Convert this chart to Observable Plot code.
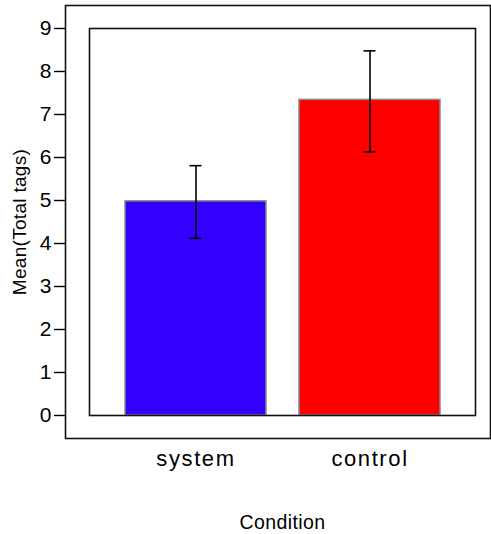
<!DOCTYPE html>
<html>
<head>
<meta charset="utf-8">
<script src="https://cdn.jsdelivr.net/npm/d3@7"></script>
<script src="https://cdn.jsdelivr.net/npm/@observablehq/plot@0.6"></script>
<style>
  html, body { margin: 0; padding: 0; background: #fff; }
  svg { display: block; }
</style>
</head>
<body>
<div id="chart"></div>
<script>
const conditions = ["system", "control"];
const means = [4.98, 7.34];
const errLow = [4.12, 6.13];
const errHigh = [5.81, 8.48];
const barColors = ["#3300ff", "#ff0000"];
const yTicks = [0, 1, 2, 3, 4, 5, 6, 7, 8, 9];
const xTitle = "Condition";
const yTitle = "Mean(Total tags)";

const rows = conditions.map((c, i) => ({
  condition: c, mean: means[i], lo: errLow[i], hi: errHigh[i], color: barColors[i]
}));

const chart = Plot.plot({
  width: 491,
  height: 534,
  marginLeft: 89,
  marginRight: 16,
  marginTop: 28,
  marginBottom: 119,
  style: { fontFamily: "'Liberation Sans', Arial, sans-serif", color: "#000", background: "#fff" },
  x: { domain: conditions, paddingInner: 0.19, paddingOuter: 0.2, label: null },
  y: { domain: [0, 9], label: null },
  marks: [
    Plot.frame({ stroke: "#111", strokeWidth: 1.6, insetLeft: -24, insetTop: -23, insetRight: -15, insetBottom: -23 }),
    Plot.barY(rows, { x: "condition", y: "mean", fill: "color", stroke: "#8a8a8a", strokeWidth: 1.5 }),
    Plot.ruleX(rows, { x: "condition", y1: "lo", y2: "hi", stroke: "#000", strokeWidth: 1.6 }),
    Plot.tickY(rows, { x: "condition", y: "lo", stroke: "#000", strokeWidth: 1.6, insetLeft: 64.5, insetRight: 64.5 }),
    Plot.tickY(rows, { x: "condition", y: "hi", stroke: "#000", strokeWidth: 1.6, insetLeft: 64.5, insetRight: 64.5 }),
    Plot.frame({ stroke: "#111", strokeWidth: 1.6 }),
    Plot.axisY({ ticks: yTicks, dx: -24, tickSize: 11, tickPadding: 3, fontSize: 21, label: null, stroke: "#000", strokeWidth: 1.4 }),
    Plot.axisY({ ticks: [], label: yTitle, labelAnchor: "center", labelArrow: "none", labelOffset: 77, fontSize: 19 }),
    Plot.axisX({ tickSize: 0, tickPadding: 35, fontSize: 22, label: null }),
    Plot.axisX({ ticks: [], label: xTitle, labelAnchor: "center", labelArrow: "none", labelOffset: 113, fontSize: 19.5 })
  ]
});
chart.querySelectorAll("text").forEach(t => t.setAttribute("fill", "#000"));
const xt = chart.querySelector('[aria-label="x-axis tick label"]');
if (xt) xt.style.letterSpacing = "1.6px";
const xl = chart.querySelector('[aria-label="x-axis label"]');
if (xl) xl.style.letterSpacing = "0.4px";
const yl = chart.querySelector('[aria-label="y-axis label"]');
if (yl) yl.style.letterSpacing = "0.3px";
document.getElementById("chart").appendChild(chart);
</script>
</body>
</html>
